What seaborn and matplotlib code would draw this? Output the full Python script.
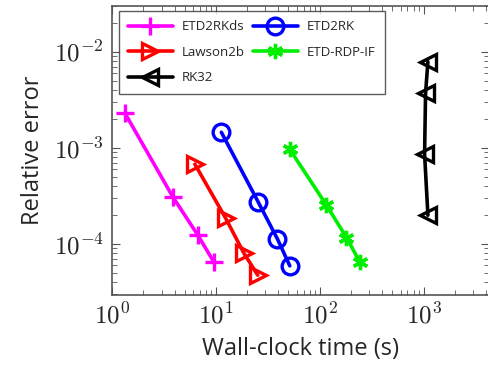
import numpy as np
import pandas as pd
import matplotlib
matplotlib.use('Agg')
import matplotlib.pyplot as plt
import seaborn as sns
from matplotlib.ticker import FuncFormatter, LogLocator

# values (time in s, relative error)
methods = ['ETD2RKds', 'Lawson2b', 'RK32', 'ETD2RK', 'ETD-RDP-IF']
t_etd2rkds = [1.33, 3.86, 6.71, 9.57]
e_etd2rkds = [2.32e-3, 3.09e-4, 1.24e-4, 6.5e-5]
t_lawson = [6.28, 12.4, 18.6, 25.3]
e_lawson = [6.8e-4, 1.87e-4, 8.06e-5, 4.75e-5]
t_rk32 = [1101, 1045, 1023, 1101]
e_rk32 = [7.93e-3, 3.71e-3, 8.6e-4, 2.0e-4]
t_etd2rk = [11.3, 25.5, 39.2, 51.5]
e_etd2rk = [1.46e-3, 2.76e-4, 1.13e-4, 5.94e-5]
t_rdp = [51.5, 116, 181, 243]
e_rdp = [9.7e-4, 2.55e-4, 1.17e-4, 6.55e-5]

sns.set_style('ticks')
plt.rcParams['font.family'] = ['Open Sans', 'DejaVu Sans']
plt.rcParams['mathtext.fontset'] = 'cm'

data = {
    'ETD2RKds': (t_etd2rkds, e_etd2rkds),
    'Lawson2b': (t_lawson, e_lawson),
    'RK32': (t_rk32, e_rk32),
    'ETD2RK': (t_etd2rk, e_etd2rk),
    'ETD-RDP-IF': (t_rdp, e_rdp),
}
style = {
    'ETD2RKds': dict(color='#ff00ff', marker='+', mfc='#ff00ff', ms=13),
    'Lawson2b': dict(color='#ff0000', marker='>', mfc='none', ms=11),
    'RK32': dict(color='black', marker='<', mfc='none', ms=11),
    'ETD2RK': dict(color='#0000ff', marker='o', mfc='none', ms=12),
    'ETD-RDP-IF': dict(color='#00ee00', marker=(6, 2, 0), mfc='#00ee00', ms=11),
}

fig = plt.figure(figsize=(4.89, 3.72), dpi=100)
ax = fig.add_axes([0.229, 0.207, 0.771, 0.777])

for m in methods:
    t, e = data[m]
    df = pd.DataFrame({'time': t, 'err': e})
    s = style[m]
    sns.lineplot(data=df, x='time', y='err', sort=False, estimator=None,
                 ax=ax, color=s['color'], lw=2.6, marker=s['marker'],
                 markersize=s['ms'], markerfacecolor=s['mfc'],
                 markeredgecolor=s['color'], markeredgewidth=2.4,
                 label=m)

ax.set_xscale('log'); ax.set_yscale('log')
ax.set_xlim(1, 10 ** 3.63)
ax.set_ylim(10 ** -4.53, 10 ** -1.52)
fmt = FuncFormatter(lambda v, p: r'$10^{%d}$' % round(np.log10(v)))
ax.xaxis.set_major_locator(LogLocator(base=10, numticks=10))
ax.yaxis.set_major_locator(LogLocator(base=10, numticks=10))
ax.xaxis.set_major_formatter(fmt)
ax.yaxis.set_major_formatter(fmt)
ax.tick_params(which='both', direction='in', top=True, right=True,
               color='#555555', labelsize=18)
ax.tick_params(which='major', length=6, pad=6)
ax.tick_params(which='minor', length=3.5)
for sp in ax.spines.values():
    sp.set_color('#555555'); sp.set_linewidth(1.2)
ax.set_xlabel('Wall-clock time (s)', fontsize=17, labelpad=6)
ax.set_ylabel('Relative error', fontsize=17, labelpad=6)

leg = ax.legend(ncol=2, loc='upper left', bbox_to_anchor=(0.018, 0.982),
                fontsize=9.5, frameon=True, fancybox=False, handlelength=3.4,
                borderpad=0.7, labelspacing=0.95, columnspacing=0.6,
                handletextpad=0.7, borderaxespad=0)
leg.get_frame().set_edgecolor('#333333')
leg.get_frame().set_linewidth(1.0)

fig.savefig('out.png', dpi=100)
